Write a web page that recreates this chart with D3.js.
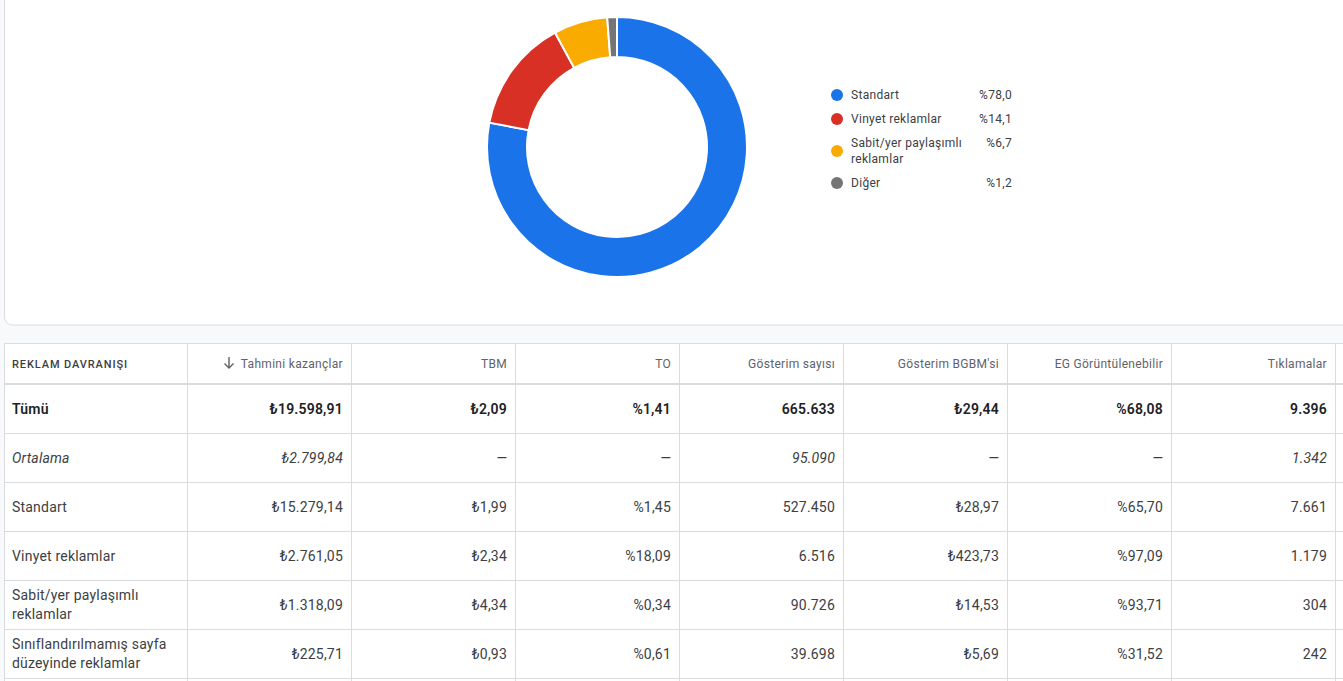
<!DOCTYPE html>
<html>
<head>
<meta charset="utf-8">
<script src="https://cdn.jsdelivr.net/npm/d3@7"></script>
<style>
  html, body { margin: 0; padding: 0; background: #f8f9fa; overflow: hidden; }
  svg { display: block; font-family: Roboto, "Noto Sans", sans-serif; }
</style>
</head>
<body>
<svg id="chart"></svg>
<script>
// Donut data
const categories = ["Standart", "Vinyet reklamlar", "Sabit/yer paylaşımlı reklamlar", "Diğer"];
const legendLabels = [["Standart"], ["Vinyet reklamlar"], ["Sabit/yer paylaşımlı", "reklamlar"], ["Diğer"]];
const shares = [78.0, 14.1, 6.7, 1.2];
const shareLabels = ["%78,0", "%14,1", "%6,7", "%1,2"];
const colors = ["#1a73e8", "#d93025", "#f9ab00", "#757575"];

// Table data
const headers = ["REKLAM DAVRANIŞI", "Tahmini kazançlar", "TBM", "TO", "Gösterim sayısı", "Gösterim BGBM'si", "EG Görüntülenebilir", "Tıklamalar"];
const rowLabels = [["Tümü"], ["Ortalama"], ["Standart"], ["Vinyet reklamlar"], ["Sabit/yer paylaşımlı", "reklamlar"], ["Sınıflandırılmamış sayfa", "düzeyinde reklamlar"]];
const earnings = ["₺19.598,91", "₺2.799,84", "₺15.279,14", "₺2.761,05", "₺1.318,09", "₺225,71"];
const tbm = ["₺2,09", "—", "₺1,99", "₺2,34", "₺4,34", "₺0,93"];
const to = ["%1,41", "—", "%1,45", "%18,09", "%0,34", "%0,61"];
const impressions = ["665.633", "95.090", "527.450", "6.516", "90.726", "39.698"];
const rpm = ["₺29,44", "—", "₺28,97", "₺423,73", "₺14,53", "₺5,69"];
const viewable = ["%68,08", "—", "%65,70", "%97,09", "%93,71", "%31,52"];
const clicks = ["9.396", "1.342", "7.661", "1.179", "304", "242"];
const valueColumns = [earnings, tbm, to, impressions, rpm, viewable, clicks];

const W = 1343, H = 681;
const svg = d3.select("#chart").attr("width", W).attr("height", H);

// Card around the donut
svg.append("rect")
  .attr("x", 4.5).attr("y", -20)
  .attr("width", W + 20).attr("height", 345)
  .attr("rx", 8)
  .attr("fill", "#fff")
  .attr("stroke", "#dadce0");

// Donut
const cx = 617, cy = 147;
const pie = d3.pie().sort(null).value((d) => d);
const arc = d3.arc().innerRadius(90).outerRadius(130);

const donut = svg.append("g").attr("transform", `translate(${cx},${cy})`);
donut.selectAll("path")
  .data(pie(shares))
  .enter()
  .append("path")
  .attr("d", arc)
  .attr("fill", (d, i) => colors[i])
  .attr("stroke", "#fff")
  .attr("stroke-width", 2);

// Legend
const legendY = [95, 119, 151, 183];
const legend = svg.append("g").attr("font-size", 12).attr("letter-spacing", 0.3);
categories.forEach((c, i) => {
  const lines = legendLabels[i];
  const top = legendY[i] - (lines.length - 1) * 8;
  legend.append("circle")
    .attr("cx", 837).attr("cy", legendY[i]).attr("r", 6)
    .attr("fill", colors[i]);
  const t = legend.append("text").attr("x", 851).attr("y", top + 4).attr("fill", "#3c4043");
  lines.forEach((l, j) => {
    t.append("tspan").attr("x", 851).attr("dy", j === 0 ? 0 : 16).text(l);
  });
  legend.append("text")
    .attr("x", 1012).attr("y", (lines.length > 1 ? top : legendY[i]) + 4)
    .attr("text-anchor", "end")
    .attr("fill", "#3c4043")
    .text(shareLabels[i]);
});

// Table
const tableTop = 343, headerH = 41, rowH = 49;
const colEdges = [4, 187];
for (let i = 1; i < headers.length + 1; i++) colEdges.push(187 + i * 164);

const table = svg.append("g");
table.append("rect")
  .attr("x", 4).attr("y", tableTop)
  .attr("width", W).attr("height", H - tableTop + 10)
  .attr("fill", "#fff");

const rowY = (r) => tableTop + headerH + r * rowH;

// horizontal lines
table.append("line")
  .attr("x1", 4).attr("x2", W).attr("y1", tableTop + 0.5).attr("y2", tableTop + 0.5)
  .attr("stroke", "#dadce0");
table.append("line")
  .attr("x1", 4).attr("x2", W).attr("y1", tableTop + headerH).attr("y2", tableTop + headerH)
  .attr("stroke", "#dadce0").attr("stroke-width", 2);
rowLabels.forEach((r, i) => {
  table.append("line")
    .attr("x1", 4).attr("x2", W)
    .attr("y1", rowY(i + 1) + 0.5).attr("y2", rowY(i + 1) + 0.5)
    .attr("stroke", "#dadce0");
});
// vertical lines
colEdges.forEach((x) => {
  table.append("line")
    .attr("x1", x + 0.5).attr("x2", x + 0.5)
    .attr("y1", tableTop).attr("y2", H)
    .attr("stroke", "#dadce0");
});

// header texts
headers.forEach((h, i) => {
  const t = table.append("text")
    .attr("y", tableTop + 25)
    .attr("font-size", 12);
  if (i === 0) {
    t.attr("x", 12).attr("fill", "#3c4043").attr("letter-spacing", 0.9)
      .attr("font-size", 11).attr("font-weight", 500).text(h);
  } else {
    t.attr("x", colEdges[i + 1] - 8).attr("text-anchor", "end")
      .attr("fill", "#5f6368").attr("letter-spacing", 0.3).text(h);
  }
});
// sort arrow
table.append("path")
  .attr("d", "M229 357 V368 M224.5 363.5 L229 368 L233.5 363.5")
  .attr("fill", "none").attr("stroke", "#5f6368").attr("stroke-width", 1.4);

// body
const rowStyle = (t, r) => {
  t.attr("letter-spacing", 0.2);
  if (r === 0) t.attr("font-weight", 600).attr("fill", "#202124");
  else if (r === 1) t.attr("font-style", "italic").attr("fill", "#3c4043");
  else t.attr("fill", "#3c4043");
};
rowLabels.forEach((lines, r) => {
  const mid = rowY(r) + rowH / 2;
  const t = table.append("text")
    .attr("x", 12)
    .attr("y", mid + 5 - (lines.length - 1) * 9.5)
    .attr("font-size", 14);
  rowStyle(t, r);
  lines.forEach((l, j) => {
    t.append("tspan").attr("x", 12).attr("dy", j === 0 ? 0 : 19).text(l);
  });
  valueColumns.forEach((col, c) => {
    const v = table.append("text")
      .attr("x", colEdges[c + 2] - 8)
      .attr("y", mid + 5)
      .attr("text-anchor", "end")
      .attr("font-size", 14)
      .text(col[r]);
    rowStyle(v, r);
  });
});
</script>
</body>
</html>
